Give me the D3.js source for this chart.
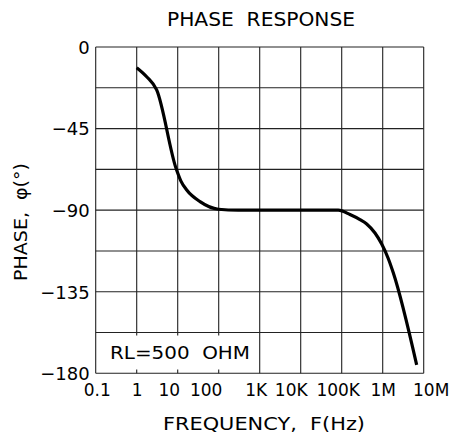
<html>
<head>
<script src="https://d3js.org/d3.v7.min.js"></script>
<style>
body { margin: 0; background: #fff; }
text { font-family: "DejaVu Sans", sans-serif; fill: #000; }
</style>
</head>
<body>
<svg width="454" height="441"></svg>
<script>
// phase response, values
var freq  = [1, 1.75, 3.07, 9.1, 12, 16.6, 35, 98, 300, 82600, 159000, 279000, 407000, 649000, 946000, 1350000, 1820000, 6740000];
var phase = [-11.4, -16.4, -23.7, -66.9, -74, -78.9, -85.3, -89.5, -90, -90, -92.4, -95.2, -97.6, -102.6, -108.7, -116.4, -124.7, -175.4];

var freqTicks  = [0.1, 1, 10, 100, 1e3, 1e4, 1e5, 1e6, 1e7];
var freqLabels = ["0.1", "1", "10", "100", "1K", "10K", "100K", "1M", "10M"];
var labelNudge = [1, 0, -9, -13, -4, -10, -4, 0, 7];
var phaseTicks  = [0, -45, -90, -135, -180];
var phaseLabels = ["0", "\u221245", "\u221290", "\u2212135", "\u2212180"];
var phaseGrid = d3.range(0, -181, -22.5);

var svg = d3.select("svg");
var pLeft = 95.7, pRight = 423.7, pTop = 47, pBottom = 373.3;

var x = d3.scaleLog().domain([0.1, 1e7]).range([pLeft, pRight]);
var y = d3.scaleLinear().domain([-180, 0]).range([pBottom, pTop]);

// grid
var grid = svg.append("g").attr("stroke", "#222").attr("stroke-width", 1.1);
grid.selectAll(".v").data(freqTicks).enter().append("line")
    .attr("x1", d => x(d)).attr("x2", d => x(d))
    .attr("y1", pTop).attr("y2", pBottom);
grid.selectAll(".h").data(phaseGrid).enter().append("line")
    .attr("x1", pLeft).attr("x2", pRight)
    .attr("y1", d => y(d)).attr("y2", d => y(d));

// note box
svg.append("rect").attr("x", 97).attr("y", 335.5).attr("width", 160).attr("height", 34)
    .attr("fill", "#fff");
svg.append("text").attr("x", 110).attr("y", 358.5).attr("font-size", 18)
    .attr("textLength", 140).attr("lengthAdjust", "spacingAndGlyphs")
    .attr("xml:space", "preserve").text("RL=500  OHM");

// curve
var pts = freq.map((f, i) => [f, phase[i]]);
svg.append("path").datum(pts)
    .attr("fill", "none").attr("stroke", "#000").attr("stroke-width", 3.2)
    .attr("d", d3.line().x(d => x(d[0])).y(d => y(d[1])).curve(d3.curveMonotoneX));

// x axis labels
var xa = svg.append("g").attr("transform", "translate(0," + pBottom + ")")
    .call(d3.axisBottom(x).tickValues(freqTicks)
        .tickFormat((d, i) => freqLabels[i]).tickSize(0).tickPadding(0));
xa.select(".domain").remove();
xa.selectAll("text").attr("font-size", 17).attr("y", 23).attr("dy", 0)
    .attr("font-family", "DejaVu Sans")
    .attr("dx", (d, i) => labelNudge[i]);

// y axis labels
var ya = svg.append("g").attr("transform", "translate(" + pLeft + ",0)")
    .call(d3.axisLeft(y).tickValues(phaseTicks)
        .tickFormat((d, i) => phaseLabels[i]).tickSize(0).tickPadding(6));
ya.select(".domain").remove();
ya.selectAll("text").attr("font-size", 18).attr("dy", "0.35em")
    .attr("font-family", "DejaVu Sans");

// titles
svg.append("text").attr("x", 167).attr("y", 26).attr("font-size", 19)
    .attr("textLength", 188).attr("lengthAdjust", "spacingAndGlyphs")
    .attr("xml:space", "preserve").text("PHASE  RESPONSE");
svg.append("text").attr("x", 163).attr("y", 430).attr("font-size", 18)
    .attr("textLength", 202).attr("lengthAdjust", "spacingAndGlyphs")
    .attr("xml:space", "preserve").text("FREQUENCY,  F(Hz)");
svg.append("text").attr("transform", "translate(27,281) rotate(-90)")
    .attr("font-size", 18).attr("textLength", 118).attr("lengthAdjust", "spacingAndGlyphs")
    .attr("xml:space", "preserve").text("PHASE,  \u03c6(\u00b0)");
</script>
</body>
</html>
